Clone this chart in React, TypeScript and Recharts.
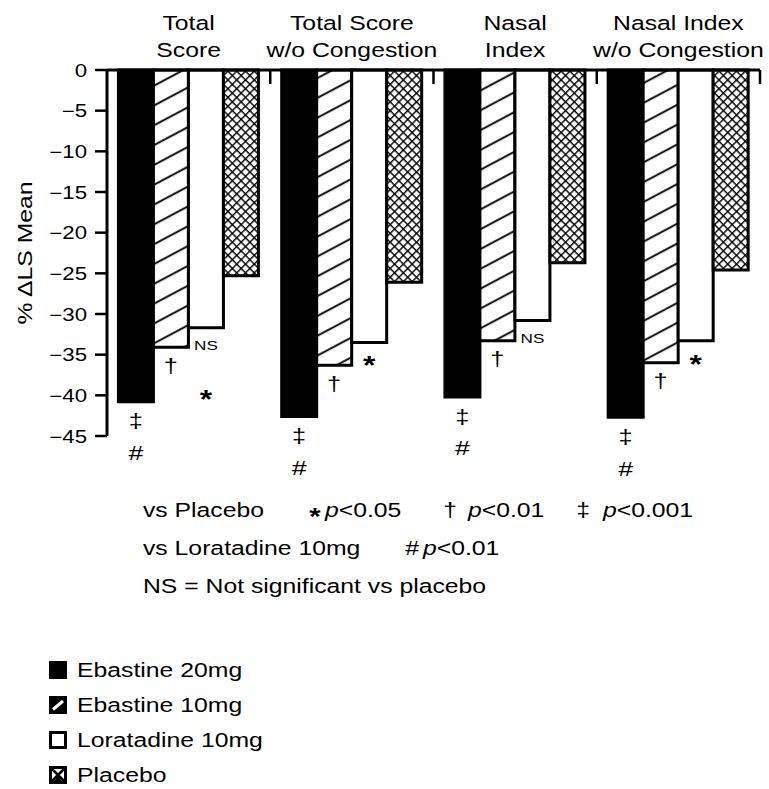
import React from "react";
import { BarChart, Bar, XAxis, YAxis, Legend, LabelList } from "recharts";

// chart values
const categoryLines = [
  ["Total", "Score"],
  ["Total Score", "w/o Congestion"],
  ["Nasal", "Index"],
  ["Nasal Index", "w/o Congestion"],
];
const ebastine20 = [-40.8, -42.6, -40.2, -42.7];
const ebastine10 = [-34.1, -36.3, -33.3, -36.0];
const loratadine10 = [-31.7, -33.5, -30.8, -33.3];
const placebo = [-25.3, -26.1, -23.7, -24.6];
const yTicks = [0, -5, -10, -15, -20, -25, -30, -35, -40, -45];
const seriesKeys = ["e20", "e10", "lor", "pla"];

// significance marks under the bars
const ebastine20Marks = [["‡", "#"], ["‡", "#"], ["‡", "#"], ["‡", "#"]];
const ebastine10Marks = [["†"], ["†"], ["†"], ["†"]];
const loratadineMarks = [["NS", "*"], ["*"], ["NS"], ["*"]];

const placeboNotes = [
  ["*", "<0.05"],
  ["†", "<0.01"],
  ["‡", "<0.001"],
];
const loratadineNotes = [["#", "<0.01"]];
const nsNote = "NS = Not significant vs placebo";

const data = categoryLines.map((lines, i) => ({
  name: lines.join(" "),
  e20: ebastine20[i],
  e10: ebastine10[i],
  lor: loratadine10[i],
  pla: placebo[i],
}));

const FONT = "'Liberation Sans', Arial, Helvetica, sans-serif";
const STRETCH = 1.27;

const WideText = ({ x, y, size, anchor = "start", weight = "normal", rotate = 0, children }: any) => (
  <text
    transform={`translate(${x},${y}) rotate(${rotate}) scale(${STRETCH},1)`}
    fontSize={size}
    fontFamily={FONT}
    fontWeight={weight}
    textAnchor={anchor}
    fill="#000"
  >
    {children}
  </text>
);

const CategoryTick = (props: any) => {
  const { x, y, payload, width, visibleTicksCount } = props;
  const idx = data.findIndex((d) => d.name === payload.value);
  const lines = categoryLines[idx] || [payload.value, ""];
  const half = payload.offset ?? width / visibleTicksCount / 2;
  return (
    <g>
      <WideText x={x} y={y - 40} size={19.5} anchor="middle">{lines[0]}</WideText>
      <WideText x={x} y={y - 13} size={19.5} anchor="middle">{lines[1]}</WideText>
      <line x1={x + half} x2={x + half} y1={y} y2={y + 14} stroke="#000" strokeWidth={2.5} />
    </g>
  );
};

const fmtTick = (v: number) => (v === 0 ? "0" : "\u2212" + Math.abs(v));

const ValueTick = (props: any) => {
  const { x, y, payload } = props;
  return (
    <WideText x={x} y={y + 6.5} size={17.5} anchor="end">
      {fmtTick(payload.value)}
    </WideText>
  );
};

const glyphs: Record<string, { size: number; lift: number; weight?: string }> = {
  "‡": { size: 20, lift: 0.28 },
  "†": { size: 20, lift: 0.28 },
  "#": { size: 21, lift: 0.35 },
  NS: { size: 13.5, lift: 0.36 },
  "*": { size: 25, lift: 0.58, weight: "bold" },
};

const markLabel = (marks: string[][], first: number, gap: number) => (props: any) => {
  const { x, y, width, height, index } = props;
  const list = marks[index] || [];
  const bottom = Math.max(y, y + height);
  const cx = x + width / 2;
  return (
    <g>
      {list.map((m, i) => {
        const g = glyphs[m];
        return (
          <WideText key={i} x={cx} y={bottom + first + i * gap + g.lift * g.size} size={g.size} weight={g.weight} anchor="middle">
            {m}
          </WideText>
        );
      })}
    </g>
  );
};

const LegendIcon = ({ k }: { k: string }) => (
  <svg width={18} height={18} style={{ display: "block" }}>
    {k === "e20" && <rect x={1.5} y={1.5} width={15} height={15} fill="#000" stroke="#000" strokeWidth={3} />}
    {k === "e10" && (
      <g>
        <rect x={1.5} y={1.5} width={15} height={15} fill="#000" stroke="#000" strokeWidth={3} />
        <line x1={4} y1={13.5} x2={14} y2={5} stroke="#fff" strokeWidth={3} />
      </g>
    )}
    {k === "lor" && <rect x={1.5} y={1.5} width={15} height={15} fill="#fff" stroke="#000" strokeWidth={3} />}
    {k === "pla" && (
      <g>
        <rect x={1.5} y={1.5} width={15} height={15} fill="#fff" stroke="#000" strokeWidth={3} />
        <path d="M3,3 L15,15 M15,3 L3,15" stroke="#000" strokeWidth={2.5} />
        <path d="M5,15 L9,10 L13,15 Z" fill="#000" />
      </g>
    )}
  </svg>
);

const LegendList = (props: any) => {
  const items = [...(props.payload || [])].sort(
    (a: any, b: any) => seriesKeys.indexOf(a.dataKey) - seriesKeys.indexOf(b.dataKey)
  );
  return (
    <div style={{ fontFamily: FONT, fontSize: 19.5, color: "#000" }}>
      {items.map((p: any) => (
        <div key={p.dataKey} style={{ height: 35, display: "flex", alignItems: "center" }}>
          <LegendIcon k={p.dataKey} />
          <span style={{ display: "inline-block", marginLeft: 10, lineHeight: "20px", transform: `scaleX(${STRETCH})`, transformOrigin: "left center", whiteSpace: "nowrap" }}>
            {p.value}
          </span>
        </div>
      ))}
    </div>
  );
};

const Footnotes = () => (
  <svg width={769} height={789} style={{ position: "absolute", left: 0, top: 0, pointerEvents: "none" }}>
    <WideText x={143} y={517} size={19.5}>vs Placebo</WideText>
    {placeboNotes.map(([sym, txt], i) => {
      const cx = [315, 450, 583][i];
      const g = glyphs[sym];
      return (
        <g key={i}>
          <WideText x={cx} y={sym === "*" ? 525 : 517} size={sym === "*" ? 23 : 19.5} weight={g.weight} anchor="middle">{sym}</WideText>
          <WideText x={cx + 10 + (sym === "‡" ? 10 : sym === "†" ? 8 : 0)} y={517} size={19.5}>
            <tspan fontStyle="italic">p</tspan>
            {txt}
          </WideText>
        </g>
      );
    })}
    <WideText x={143} y={555} size={19.5}>vs Loratadine 10mg</WideText>
    {loratadineNotes.map(([sym, txt], i) => (
      <g key={i}>
        <WideText x={412} y={555} size={19.5} anchor="middle">{sym}</WideText>
        <WideText x={423} y={555} size={19.5}>
          <tspan fontStyle="italic">p</tspan>
          {txt}
        </WideText>
      </g>
    ))}
    <WideText x={143} y={593} size={19.5}>{nsNote}</WideText>
  </svg>
);

export default function App() {
  return (
    <div style={{ position: "absolute", left: 0, top: 0, width: 769, height: 789, background: "#fff" }}>
      <BarChart
        width={769}
        height={789}
        data={data}
        margin={{ top: 0, right: 9, bottom: 353, left: 0 }}
        barCategoryGap="7%"
        barGap={0}
      >
        <defs>
          <pattern id="hatch" patternUnits="userSpaceOnUse" width={8} height={17.5} patternTransform="rotate(-28)">
            <rect width={8} height={17.5} fill="#fff" />
            <line x1={0} x2={8} y1={8} y2={8} stroke="#000" strokeWidth={1.9} />
          </pattern>
          <pattern id="cross" patternUnits="userSpaceOnUse" width={6.2} height={6.2} patternTransform="rotate(45)">
            <rect width={6.2} height={6.2} fill="#fff" />
            <line x1={0} x2={6.2} y1={0} y2={0} stroke="#000" strokeWidth={2.8} />
            <line x1={0} x2={0} y1={0} y2={6.2} stroke="#000" strokeWidth={2.8} />
          </pattern>
        </defs>
        <XAxis
          dataKey="name"
          orientation="top"
          height={70}
          tickLine={false}
          tickSize={0}
          tickMargin={0}
          axisLine={{ stroke: "#000", strokeWidth: 3 }}
          tick={<CategoryTick />}
          interval={0}
        />
        <YAxis
          type="number"
          domain={[-45, 0]}
          ticks={yTicks}
          width={107}
          tickSize={12}
          tickMargin={8}
          axisLine={{ stroke: "#000", strokeWidth: 3 }}
          tickLine={{ stroke: "#000", strokeWidth: 2.5 }}
          tick={<ValueTick />}
          interval={0}
          label={{
            content: (p: any) => {
              const vb = p.viewBox || { x: 0, y: 70, height: 366 };
              return (
                <WideText x={vb.x + 32} y={vb.y + vb.height / 2} size={19.5} anchor="middle" rotate={-90}>
                  % ΔLS Mean
                </WideText>
              );
            },
          }}
        />
        <Legend
          layout="vertical"
          align="center"
          verticalAlign="middle"
          wrapperStyle={{ left: 49, top: 652, width: "auto", height: "auto" }}
          content={<LegendList />}
        />
        <Bar dataKey="e20" name="Ebastine 20mg" fill="#000" stroke="#000" strokeWidth={3} isAnimationActive={false}>
          <LabelList dataKey="e20" content={markLabel(ebastine20Marks, 21, 30)} />
        </Bar>
        <Bar dataKey="e10" name="Ebastine 10mg" fill="url(#hatch)" stroke="#000" strokeWidth={3} isAnimationActive={false}>
          <LabelList dataKey="e10" content={markLabel(ebastine10Marks, 20, 30)} />
        </Bar>
        <Bar dataKey="lor" name="Loratadine 10mg" fill="#fff" stroke="#000" strokeWidth={3} isAnimationActive={false}>
          <LabelList dataKey="lor" content={markLabel(loratadineMarks, 17.5, 48)} />
        </Bar>
        <Bar dataKey="pla" name="Placebo" fill="url(#cross)" stroke="#000" strokeWidth={3} isAnimationActive={false} />
      </BarChart>
      <Footnotes />
    </div>
  );
}
